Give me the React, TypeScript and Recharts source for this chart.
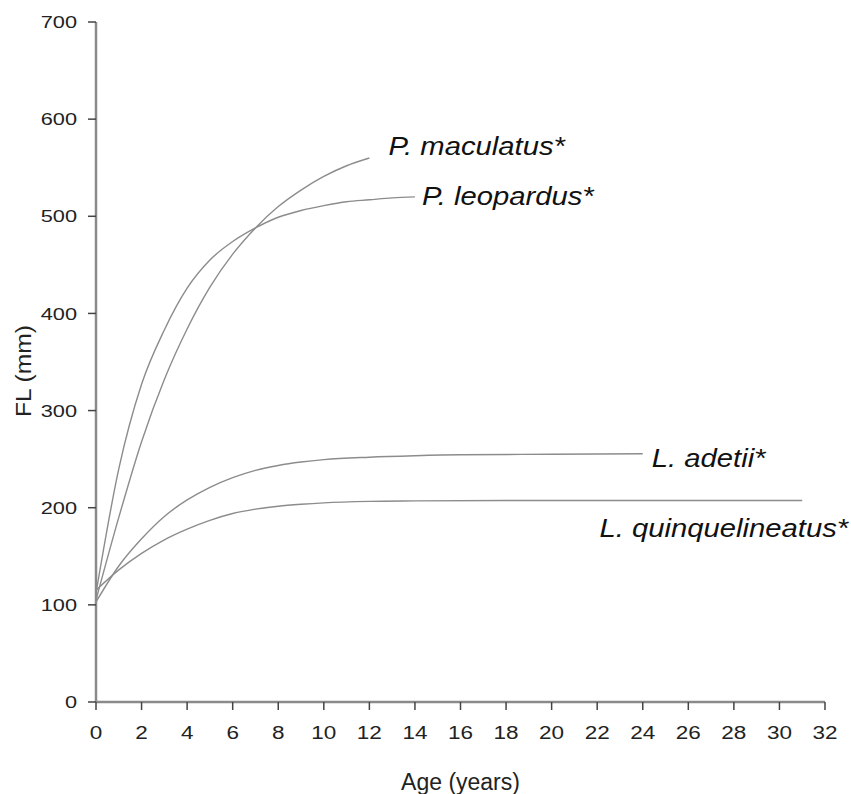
import React from 'react';
import { LineChart, Line, XAxis, YAxis, ReferenceDot } from 'recharts';

const xTicks = [0, 2, 4, 6, 8, 10, 12, 14, 16, 18, 20, 22, 24, 26, 28, 30, 32];
const yTicks = [0, 100, 200, 300, 400, 500, 600, 700];

const maculatusAge = [0, 1, 2, 3, 4, 5, 6, 7, 8, 9, 10, 11, 12];
const maculatusFL = [105, 190, 268, 332, 384, 427, 461, 488, 510, 527, 541, 552, 560];

const leopardusAge = [0, 1, 2, 3, 4, 5, 6, 7, 8, 9, 10, 11, 12, 13, 14];
const leopardusFL = [112, 240, 327, 383, 426, 455, 474, 488, 499, 506, 511, 515, 517, 519, 520];

const adetiiAge = [0, 1, 2, 3, 4, 5, 6, 7, 8, 9, 10, 12, 14, 16, 20, 24];
const adetiiFL = [103, 140, 168, 191, 208, 221, 231, 238.5, 243.5, 247, 249.5, 252, 253.5, 254.5, 255, 255.5];

const quinqAge = [0, 1, 2, 3, 4, 5, 6, 7, 8, 9, 10, 12, 14, 18, 24, 31];
const quinqFL = [115, 136, 153, 167, 178, 187, 194, 198.5, 201.5, 203.5, 205, 206.5, 207, 207.5, 207.5, 207.5];

const speciesNames = ['P. maculatus*', 'P. leopardus*', 'L. adetii*', 'L. quinquelineatus*'];

const build = (ages: number[], vals: number[]) => ages.map((a, i) => ({ age: a, fl: vals[i] }));

const series = [
  { name: speciesNames[0], data: build(maculatusAge, maculatusFL), dx: 19, dy: -3, anchor: 'start' },
  { name: speciesNames[1], data: build(leopardusAge, leopardusFL), dx: 7, dy: 8, anchor: 'start' },
  { name: speciesNames[2], data: build(adetiiAge, adetiiFL), dx: 9, dy: 13, anchor: 'start' },
  { name: speciesNames[3], data: build(quinqAge, quinqFL), dx: 46, dy: 36.5, anchor: 'end' },
];

const FONT = '"Liberation Sans", Arial, sans-serif';
const LINE_COLOR = '#8c8c8c';

const YTick = (props: any) => {
  const { x, y, payload } = props;
  return (
    <text
      transform={`translate(${x},${y}) scale(1.28,1)`}
      textAnchor="end"
      dominantBaseline="central"
      fontSize={17}
      fontFamily={FONT}
      fill="#222"
    >
      {payload.value}
    </text>
  );
};

const XTick = (props: any) => {
  const { x, y, payload } = props;
  return (
    <text
      transform={`translate(${x},${y}) scale(1.25,1)`}
      textAnchor="middle"
      dy="0.71em"
      fontSize={18}
      fontFamily={FONT}
      fill="#222"
    >
      {payload.value}
    </text>
  );
};

const makeSpeciesLabel = (name: string, dx: number, dy: number, anchor: string) => (props: any) => {
  const vb = props.viewBox || {};
  const x = (vb.x ?? props.x ?? 0) + (vb.width ?? 0) / 2;
  const y = (vb.y ?? props.y ?? 0) + (vb.height ?? 0) / 2;
  return (
    <text
      transform={`translate(${x + dx},${y + dy}) scale(1.17,1)`}
      textAnchor={anchor as any}
      fontSize={25}
      fontStyle="italic"
      fontFamily={FONT}
      fill="#111"
    >
      {name}
    </text>
  );
};

const YTitle = (props: any) => {
  const vb = props.viewBox || { x: 0, y: 22, width: 96, height: 680 };
  const cy = vb.y + vb.height / 2 + 9;
  return (
    <text
      transform={`translate(31,${cy}) rotate(-90) scale(1.12,1)`}
      textAnchor="middle"
      fontSize={22}
      fontFamily={FONT}
      fill="#222"
    >
      FL (mm)
    </text>
  );
};

const XTitle = (props: any) => {
  const vb = props.viewBox || { x: 96, y: 702, width: 729, height: 60 };
  const cx = vb.x + vb.width / 2;
  return (
    <text x={cx} y={790} textAnchor="middle" fontSize={23} fontFamily={FONT} fill="#222">
      Age (years)
    </text>
  );
};

export default function App() {
  return (
    <div style={{ position: 'absolute', left: 0, top: 0, background: '#fff' }}>
      <LineChart width={851} height={794} margin={{ top: 22, right: 26, bottom: 32, left: 0 }}>
        <XAxis
          type="number"
          dataKey="age"
          domain={[0, 32]}
          ticks={xTicks}
          interval={0}
          height={60}
          tickSize={8}
          tickMargin={16}
          axisLine={{ stroke: '#8a8a8a', strokeWidth: 2.5 }}
          tickLine={{ stroke: '#444', strokeWidth: 1.5 }}
          tick={<XTick />}
          label={{ content: XTitle }}
        />
        <YAxis
          type="number"
          domain={[0, 700]}
          ticks={yTicks}
          interval={0}
          width={96}
          tickSize={8}
          tickMargin={11}
          axisLine={{ stroke: '#8a8a8a', strokeWidth: 2.5 }}
          tickLine={{ stroke: '#444', strokeWidth: 1.5 }}
          tick={<YTick />}
          label={{ content: YTitle }}
        />
        {series.map((s) => (
          <Line
            key={s.name}
            data={s.data}
            dataKey="fl"
            type="monotone"
            stroke={LINE_COLOR}
            strokeWidth={1.4}
            dot={false}
            activeDot={false}
            isAnimationActive={false}
          />
        ))}
        {series.map((s) => {
          const last = s.data[s.data.length - 1];
          return (
            <ReferenceDot
              key={'lbl-' + s.name}
              x={last.age}
              y={last.fl}
              r={0}
              fill="none"
              stroke="none"
              label={{ content: makeSpeciesLabel(s.name, s.dx, s.dy, s.anchor) }}
            />
          );
        })}
      </LineChart>
    </div>
  );
}
